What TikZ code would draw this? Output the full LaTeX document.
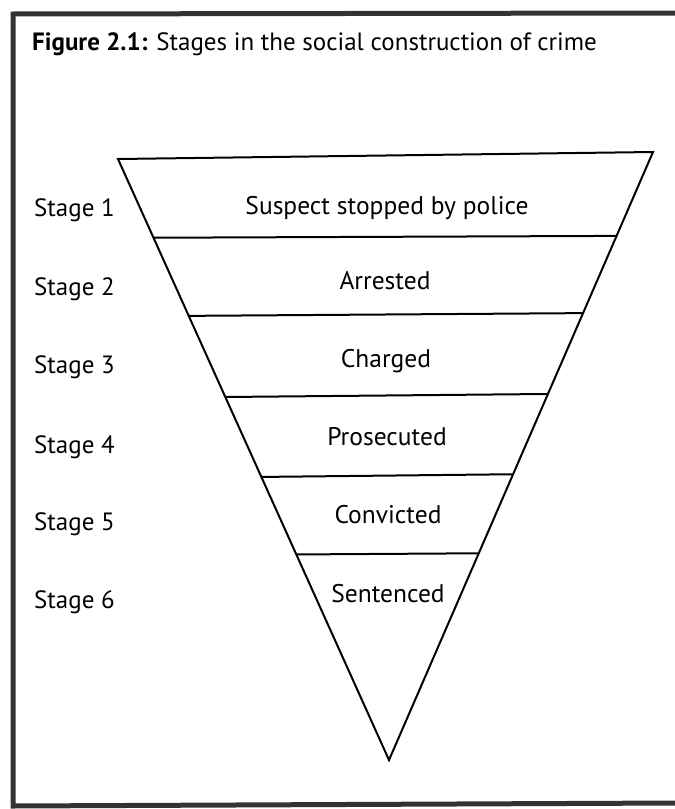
\documentclass[tikz,border=0pt]{standalone}
\usepackage{fontspec}
\setmainfont{PT Sans}
\usetikzlibrary{calc}
\tikzset{
  stagelbl/.style={anchor=base west, inner sep=0pt, font=\fontsize{25}{28}\selectfont},
  steptxt/.style={anchor=base, inner sep=0pt, font=\fontsize{25.5}{28}\selectfont},
  funnel/.style={line width=2pt, line join=miter, black},
  divider/.style={line width=2pt, black},
  frameline/.style={line width=5pt, black!80}
}
\begin{document}
\begin{tikzpicture}[x=1pt,y=-1pt]
\useasboundingbox (0,0) rectangle (675,809);
% frame
\coordinate (fa) at (13,14);
\coordinate (fb) at (675,13);
\coordinate (fc) at (13,806);
\coordinate (fd) at (675,803);
\draw[frameline] (fb) -- (fa) -- (fc) -- (fd);
% title
\node[anchor=base west, inner sep=0pt, font=\fontsize{25}{28}\selectfont] (title) at (32,50)
  {\textbf{Figure 2.1:} Stages in the social construction of crime};
% funnel
\coordinate (tl) at (118,159);
\coordinate (tr) at (653,152);
\coordinate (ap) at (389,760);
\draw[funnel] (tl) -- (tr) -- (ap) -- cycle;
\foreach \i/\tl/\tr in {1/0.131/0.138, 2/0.261/0.265, 3/0.396/0.398, 4/0.529/0.530, 5/0.658/0.660}{
  \coordinate (l\i) at ($(tl)!\tl!(ap)$);
  \coordinate (r\i) at ($(tr)!\tr!(ap)$);
  \draw[divider] (l\i) -- (r\i);
}
% stage labels
\node[stagelbl] (s1) at (34,216) {Stage 1};
\node[stagelbl] (s2) at (34,295) {Stage 2};
\node[stagelbl] (s3) at (34,373) {Stage 3};
\node[stagelbl] (s4) at (34,453) {Stage 4};
\node[stagelbl] (s5) at (34,530) {Stage 5};
\node[stagelbl] (s6) at (34,608) {Stage 6};
% step texts
\node[steptxt] (t1) at (387,214) {Suspect stopped by police};
\node[steptxt] (t2) at (385,289) {Arrested};
\node[steptxt] (t3) at (386,367) {Charged};
\node[steptxt] (t4) at (387,445) {Prosecuted};
\node[steptxt] (t5) at (388,523) {Convicted};
\node[steptxt] (t6) at (388,602) {Sentenced};
\end{tikzpicture}
\end{document}
